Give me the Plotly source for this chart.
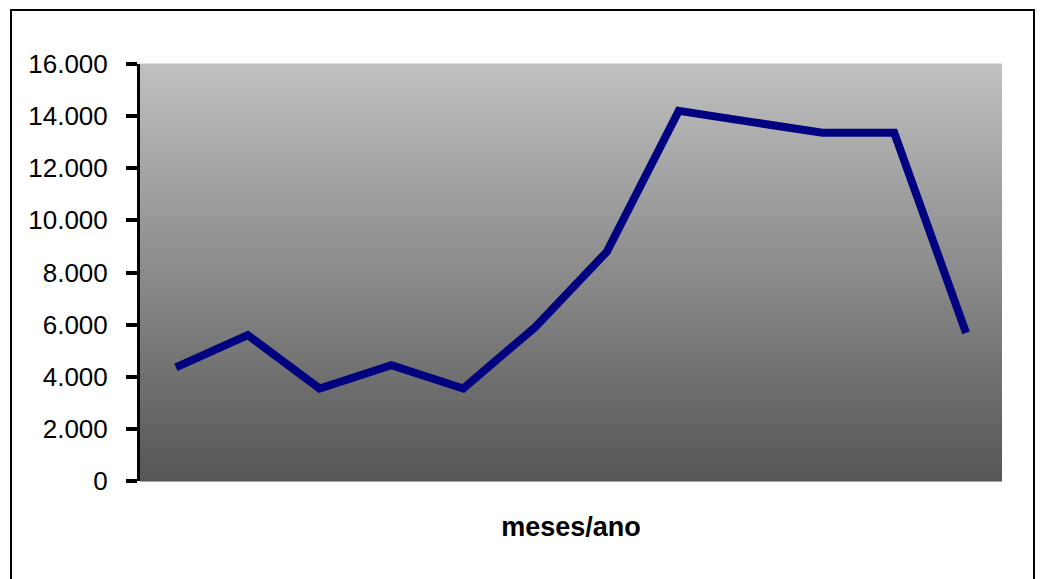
import plotly.graph_objects as go

meses = ["jan", "fev", "mar", "abr", "mai", "jun", "jul", "ago", "set", "out", "nov", "dez"]
valores = [4360, 5600, 3550, 4440, 3550, 5900, 8800, 14200, 13780, 13360, 13360, 5680]
y_ticks = [0, 2000, 4000, 6000, 8000, 10000, 12000, 14000, 16000]
y_tick_labels = ["0", "2.000", "4.000", "6.000", "8.000", "10.000", "12.000", "14.000", "16.000"]

fig = go.Figure()
fig.add_trace(go.Scatter(
    x=meses, y=valores, mode="lines",
    line=dict(color="#000080", width=8),
    hoverinfo="skip", showlegend=False,
))

# gradient background in strips
shapes = []
n = 140
top, bottom = 192, 86
for i in range(n):
    f = (i + 0.5) / n
    c = round(top + (bottom - top) * f)
    shapes.append(dict(
        type="rect", xref="x domain", yref="y domain",
        x0=0, x1=1, y0=1 - (i + 1) / n - 0.001, y1=1 - i / n + 0.001,
        fillcolor=f"rgb({c},{c},{c})", line=dict(width=0), layer="below",
    ))
# outer frame
shapes.append(dict(
    type="rect", xref="paper", yref="paper",
    x0=-129.0 / 862, x1=(1034 - 140) / 862, y0=-100 / 417, y1=(481 - 10) / 417,
    line=dict(color="black", width=2), fillcolor="rgba(0,0,0,0)", layer="above",
))

fig.update_layout(
    width=1042, height=579, autosize=False,
    margin=dict(l=140, r=40, t=64, b=98),
    paper_bgcolor="white", plot_bgcolor="white",
    font=dict(family="Liberation Sans, Arial, sans-serif", color="black"),
    shapes=shapes,
    xaxis=dict(
        showticklabels=False, showgrid=False, zeroline=False, showline=False,
        ticks="", range=[-0.5, 11.5],
        title=dict(text="<b>meses/ano</b>", font=dict(size=27, color="black"), standoff=36),
    ),
    yaxis=dict(
        range=[0, 16000], tickvals=y_ticks, ticktext=y_tick_labels,
        showgrid=False, zeroline=False, showline=True, linecolor="black", linewidth=3,
        ticks="outside", ticklen=11, tickwidth=4, tickcolor="black",
        tickfont=dict(size=26, color="black"), ticklabelstandoff=13,
    ),
)

fig.write_html("out.html")
